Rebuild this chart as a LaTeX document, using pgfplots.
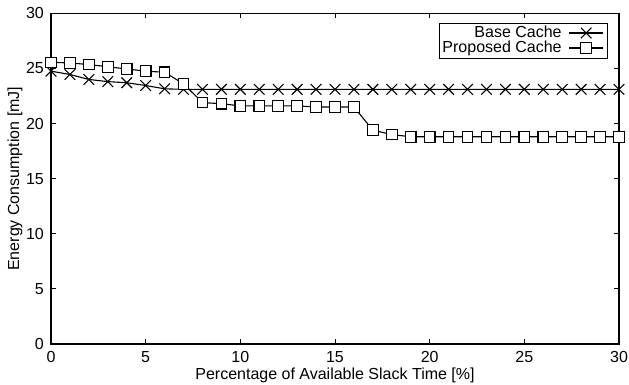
\documentclass[border=0pt]{standalone}
\usepackage{pgfplots}
\pgfplotsset{compat=1.18}
\usepackage{fontspec}
\setmainfont{Liberation Sans}
\begin{document}
\fontsize{16}{19}\selectfont
\begin{tikzpicture}
\begin{axis}[
  name=ax,
  scale only axis,
  width=568pt, height=330.7pt,
  xmin=0, xmax=30, ymin=0, ymax=30,
  xtick={0,5,...,30}, ytick={0,5,...,30},
  tick align=inside,
  major tick length=5pt,
  axis line style={line width=1.4pt},
  tick style={line width=0.9pt, black},
  /pgf/number format/assume math mode=true,
  ticklabel style={font=\fontsize{16}{19}\selectfont},
  xticklabel style={inner sep=0pt, yshift=-7pt},
  yticklabel style={inner sep=0pt, xshift=-7pt},
  every axis x label/.style={at={(rel axis cs:0.5,0)}, yshift=-31pt, anchor=center, font=\fontsize{16}{19}\selectfont},
  every axis y label/.style={at={(rel axis cs:0,0.5)}, xshift=-36pt, rotate=90, anchor=center, font=\fontsize{16}{19}\selectfont},
  xlabel={Percentage of Available Slack Time [\%]},
  ylabel={Energy Consumption [mJ]},
  legend plot pos=right,
  legend cell align=right,
  legend style={at={(0.981,0.972)}, anchor=north east, draw=black, line width=0.9pt,
    inner sep=1pt, row sep=-3pt, font=\fontsize{16}{19}\selectfont},
  legend image code/.code={
    \path (0pt,0pt) (42pt,0pt);
    \draw[mark repeat=2,mark phase=2] plot coordinates {(5pt,0pt) (22pt,0pt) (39pt,0pt)};
  },
]
\addplot[black, line width=1.1pt, mark=x, mark size=7.5pt, mark options={line width=1.1pt}] coordinates {
(0,24.75) (1,24.45) (2,24.0) (3,23.8) (4,23.7) (5,23.45) (6,23.15) (7,23.1) (8,23.1) (9,23.1)
(10,23.1) (11,23.1) (12,23.1) (13,23.1) (14,23.1) (15,23.1) (16,23.1) (17,23.1) (18,23.1) (19,23.1)
(20,23.1) (21,23.1) (22,23.1) (23,23.1) (24,23.1) (25,23.1) (26,23.1) (27,23.1) (28,23.1) (29,23.1) (30,23.1)
};
\addlegendentry{Base Cache}
\addplot[black, line width=1.1pt, mark=square*, mark size=5.3pt, mark options={fill=white, line width=1.1pt}] coordinates {
(0,25.55) (1,25.5) (2,25.35) (3,25.15) (4,24.95) (5,24.75) (6,24.65) (7,23.6) (8,21.9) (9,21.8)
(10,21.6) (11,21.6) (12,21.6) (13,21.6) (14,21.5) (15,21.5) (16,21.5) (17,19.4) (18,19.0) (19,18.8)
(20,18.8) (21,18.8) (22,18.8) (23,18.8) (24,18.8) (25,18.8) (26,18.8) (27,18.8) (28,18.8) (29,18.8) (30,18.8)
};
\addlegendentry{Proposed Cache}
\end{axis}
\pgfresetboundingbox
\path[use as bounding box] ([xshift=-51pt,yshift=-41pt]ax.south west) rectangle ([xshift=10pt,yshift=13.3pt]ax.north east);
\end{tikzpicture}
\end{document}
